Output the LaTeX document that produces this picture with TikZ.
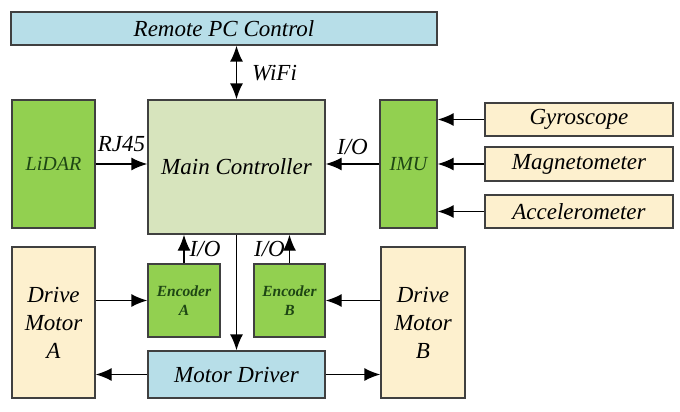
\documentclass[tikz,border=0pt]{standalone}
\usepackage{fontspec}
\setmainfont{Liberation Serif}
\usepackage{tikz}
\usetikzlibrary{arrows.meta,positioning}

\definecolor{pcblue}{RGB}{183,222,232}
\definecolor{ctrlgreen}{RGB}{215,228,189}
\definecolor{devgreen}{RGB}{146,208,80}
\definecolor{darkgreen}{RGB}{30,70,20}
\definecolor{cream}{RGB}{253,240,206}
\definecolor{edge}{RGB}{64,64,64}

\begin{document}
\begin{tikzpicture}[x=1pt, y=-1pt,
    blk/.style={draw=edge, line width=1.4pt, inner sep=0pt, align=center,
      font=\fontsize{23}{28}\selectfont\itshape},
    blu/.style={blk, fill=pcblue},
    ctrl/.style={blk, fill=ctrlgreen},
    dev/.style={blk, fill=devgreen, text=darkgreen, font=\fontsize{20}{24}\selectfont\itshape},
    enc/.style={blk, fill=devgreen, text=darkgreen, font=\fontsize{15.5}{19}\selectfont\bfseries\itshape},
    sens/.style={blk, fill=cream},
    lbl/.style={inner sep=0pt, text depth=0pt, font=\fontsize{23}{28}\selectfont\itshape},
    arr/.style={line width=1.4pt, -{Latex[length=16pt,width=13pt]}},
    darr/.style={line width=1.4pt, {Latex[length=16pt,width=13pt]}-{Latex[length=16pt,width=13pt]}}]
    \useasboundingbox (0,0) rectangle (680,412);
    % top row
    \node[blu, minimum width=426pt, minimum height=33pt] (remote) at (224,28.5) {Remote PC Control};
    % middle row
    \node[dev, minimum width=83pt, minimum height=128pt] (lidar) at (53.5,164) {LiDAR};
    \node[ctrl, minimum width=177pt, minimum height=134pt] (main) at (236.5,167) {Main Controller};
    \node[dev, minimum width=57pt, minimum height=128pt] (imu) at (408.5,164) {IMU};
    % sensors
    \node[sens, minimum width=188pt, minimum height=33pt] (gyro) at (579,119.5) {Gyroscope};
    \node[sens, minimum width=188pt, minimum height=34pt] (magneto) at (579,164) {Magnetometer};
    \node[sens, minimum width=188pt, minimum height=33pt] (accel) at (579,211.5) {Accelerometer};
    % bottom row
    \node[sens, minimum width=83pt, minimum height=151pt] (motorA) at (53.5,322.5) {Drive\\Motor\\A};
    \node[enc, minimum width=72pt, minimum height=73pt] (encA) at (184,300.5) {Encoder\\A};
    \node[enc, minimum width=71pt, minimum height=73pt] (encB) at (289.5,300.5) {Encoder\\B};
    \node[blu, minimum width=177pt, minimum height=47pt] (driver) at (236.5,374.5) {Motor Driver};
    \node[sens, minimum width=84pt, minimum height=151pt] (motorB) at (423,322.5) {Drive\\Motor\\B};

    % links to the controller
    \draw[darr] (remote.south -| main.north) -- (main.north) node[lbl, midway, right=15pt] {WiFi};
    \draw[arr] (lidar.east) -- (lidar.east -| main.west) node[lbl, midway, above=12pt] {RJ45};
    \draw[arr] (imu.west) -- (imu.west -| main.east) node[lbl, midway, above=9pt] {I/O};
    \draw[arr] (encA.north) -- (encA.north |- main.south) node[lbl, midway, right=5pt] {I/O};
    \draw[arr] (encB.north) -- (encB.north |- main.south) node[lbl, midway, left=4pt] {I/O};
    \draw[arr] (main.south) -- (driver.north);
    % sensors to IMU
    \draw[arr] (gyro.west) -- (gyro.west -| imu.east);
    \draw[arr] (magneto.west) -- (magneto.west -| imu.east);
    \draw[arr] (accel.west) -- (accel.west -| imu.east);
    % motors
    \draw[arr] (encA.west -| motorA.east) -- (encA.west);
    \draw[arr] (encB.east -| motorB.west) -- (encB.east);
    \draw[arr] (driver.west) -- (driver.west -| motorA.east);
    \draw[arr] (driver.east) -- (driver.east -| motorB.west);
\end{tikzpicture}
\end{document}
